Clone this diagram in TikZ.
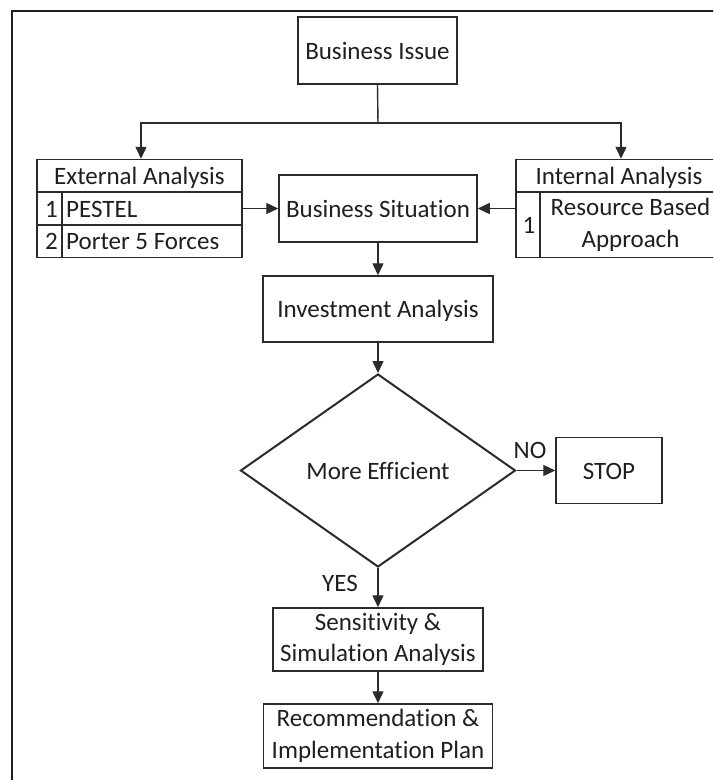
\documentclass[tikz,border=0pt]{standalone}
\usepackage{fontspec}
\setmainfont{Carlito}[Ligatures={NoCommon,NoRare,NoContextual}]
\usetikzlibrary{arrows.meta,shapes.geometric}
\definecolor{ink}{HTML}{1F1F1F}
\definecolor{edge}{HTML}{2B2B2B}
\begin{document}
\begin{tikzpicture}[x=1pt,y=-1pt,
  txt/.style={inner sep=0pt,text=ink,font=\fontsize{25}{31.5}\selectfont},
  one/.style={text height=17pt,text depth=0pt},
  box/.style={txt,draw=edge,line width=1.5pt,align=center},
  ln/.style={draw=edge,line width=1.4pt},
  arr/.style={ln,-{Triangle[length=12pt,width=11pt]}}]
\clip (0,0) rectangle (713,780);
\fill[white] (0,0) rectangle (713,780);
\draw[line width=2pt,draw=ink] (12,800) -- (12,11) -- (730,11);

% nodes
\node[box,one,minimum width=159pt,minimum height=67pt] (bi) at (377.5,50.5) {Business Issue};

\node[box,minimum width=205pt,minimum height=98pt] (ext) at (139.5,208.5) {};
\draw[ln] (37,192) -- (242,192);
\draw[ln] (37,225) -- (242,225);
\draw[ln] (62,192) -- (62,257.5);
\node[txt,one] (extH) at (139.5,176) {External Analysis};
\node[txt,one] (ext1n) at (51.5,208.5) {1};
\node[txt,one,anchor=west] (ext1) at (66,208.5) {PESTEL};
\node[txt,one] (ext2n) at (51.5,241) {2};
\node[txt,one,anchor=west] (ext2) at (66,241) {Porter 5 Forces};

\node[box,minimum width=205pt,minimum height=98pt] (int) at (618.5,208.5) {};
\draw[ln] (516,192) -- (721,192);
\draw[ln] (540,192) -- (540,257.5);
\node[txt,one] (intH) at (619,176) {Internal Analysis};
\node[txt,one] (int1n) at (529,225) {1};
\node[txt,align=center] (int1) at (630.5,225) {Resource Based\\Approach};

\node[box,one,minimum width=198pt,minimum height=67pt] (bs) at (378,208.5) {Business Situation};
\node[box,one,minimum width=230pt,minimum height=66pt] (ia) at (378,309) {Investment Analysis};
\node[txt,one,diamond,draw=edge,line width=2pt,minimum width=275pt,minimum height=193pt] (dec) at (378,470.5) {More Efficient};
\node[box,one,minimum width=106pt,minimum height=66pt] (stop) at (609,470.5) {STOP};
\node[box,minimum width=210pt,minimum height=63pt] (sens) at (378,639.5) {Sensitivity \&\\Simulation Analysis};
\node[box,minimum width=229pt,minimum height=64pt] (rec) at (378,736) {Recommendation \&\\Implementation Plan};

\node[txt,one] (no) at (530,450) {NO};
\node[txt,one] (yes) at (340,583) {YES};

% connectors
\coordinate (j) at (378,123);
\draw[ln] (bi.south) -- (j);
\draw[arr] (j) -| ([xshift=1.5pt]ext.north);
\draw[arr] (j) -| ([xshift=2.5pt]int.north);
\draw[arr] (ext.east) -- (bs.west);
\draw[arr] (int.west) -- (bs.east);
\draw[arr] (bs.south) -- (ia.north);
\draw[arr] (ia.south) -- (dec.north);
\draw[arr] (dec.east) -- (stop.west);
\draw[arr] (dec.south) -- (sens.north);
\draw[arr] (sens.south) -- (rec.north);
\end{tikzpicture}
\end{document}
